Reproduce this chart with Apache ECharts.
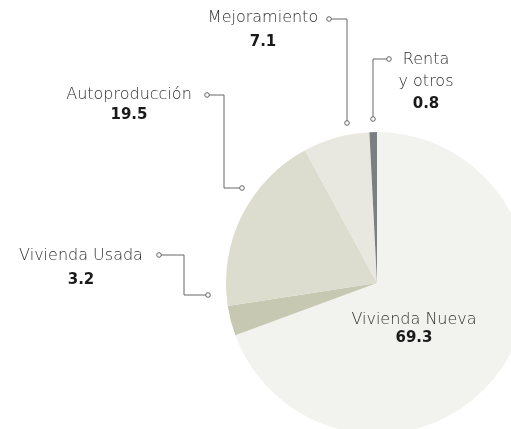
<!DOCTYPE html>
<html>
<head>
<meta charset="utf-8">
<script src="https://cdn.jsdelivr.net/npm/echarts@6/dist/echarts.min.js"></script>
<style>
  html, body { margin: 0; padding: 0; background: #ffffff; }
  #chart { width: 511px; height: 429px; }
</style>
</head>
<body>
<div id="chart"></div>
<script>
// ---- data ----
const categories = ['Vivienda Nueva', 'Vivienda Usada', 'Autoproducción', 'Mejoramiento', 'Renta\ny otros'];
const values = [69.3, 3.2, 19.5, 7.1, 0.8];
const sliceColors = ['#f2f2ee', '#c6c8b1', '#dcdccf', '#e8e8e0', '#7b7f83'];

// ---- label layout (presentation only) ----
const labelPos = [
  { x: 414, y: 311, lh: 18, inside: true },
  { x: 81,  y: 243, lh: 25 },
  { x: 129, y: 84,  lh: 21 },
  { x: 263, y: 6,   lh: 24 },
  { x: 426, y: 49,  lh: 22 }
];
// leader lines: label-end circle ... pie-end circle
const leaders = [
  null,
  [[159, 255], [184, 255], [184, 295], [208, 295]],
  [[207, 95], [224, 95], [224, 188], [242, 188]],
  [[329, 19], [347, 19], [347, 123]],
  [[373, 119], [373, 59], [389, 59]]
];

const NAME_FONT = '"DejaVu Sans", sans-serif';
const NUM_FONT = '"DejaVu Sans", sans-serif';
const lineColor = '#666666';

const chart = echarts.init(document.getElementById('chart'), null, { renderer: 'canvas' });

const seriesData = categories.map((name, i) => ({
  name: name,
  value: values[i],
  itemStyle: { color: sliceColors[i] },
  label: {
    position: labelPos[i].inside ? 'inside' : 'outside',
    rich: {
      n: { lineHeight: labelPos[i].lh },
      v: { lineHeight: labelPos[i].lh }
    }
  }
}));

const graphics = [];
leaders.forEach(pts => {
  if (!pts) return;
  graphics.push({
    type: 'polyline', silent: true, z: 10,
    shape: { points: pts },
    style: { stroke: lineColor, lineWidth: 1, fill: null }
  });
  [pts[0], pts[pts.length - 1]].forEach(p => {
    graphics.push({
      type: 'circle', silent: true, z: 11,
      shape: { cx: p[0], cy: p[1], r: 2.3 },
      style: { fill: '#ffffff', stroke: lineColor, lineWidth: 1 }
    });
  });
});

chart.setOption({
  animation: false,
  backgroundColor: '#ffffff',
  graphic: graphics,
  series: [{
    type: 'pie',
    center: [377, 283],
    radius: 151,
    startAngle: 90,
    clockwise: true,
    silent: true,
    avoidLabelOverlap: false,
    emphasis: { disabled: true },
    itemStyle: { borderWidth: 0 },
    label: {
      show: true,
      position: 'outside',
      formatter: p => '{n|' + p.name + '}\n{v|' + p.value + '}',
      rich: {
        n: { fontFamily: NAME_FONT, fontWeight: 200, fontSize: 16, color: '#2e2e2e', align: 'center' },
        v: { fontFamily: NUM_FONT, fontWeight: 'bold', fontSize: 15, color: '#1a1a1a', align: 'center' }
      }
    },
    labelLine: { show: false },
    labelLayout: function (params) {
      const p = labelPos[params.dataIndex];
      return { x: p.x, y: p.y, align: 'center', verticalAlign: 'top', hideOverlap: false, moveOverlap: false };
    },
    data: seriesData
  }]
});
</script>
</body>
</html>
